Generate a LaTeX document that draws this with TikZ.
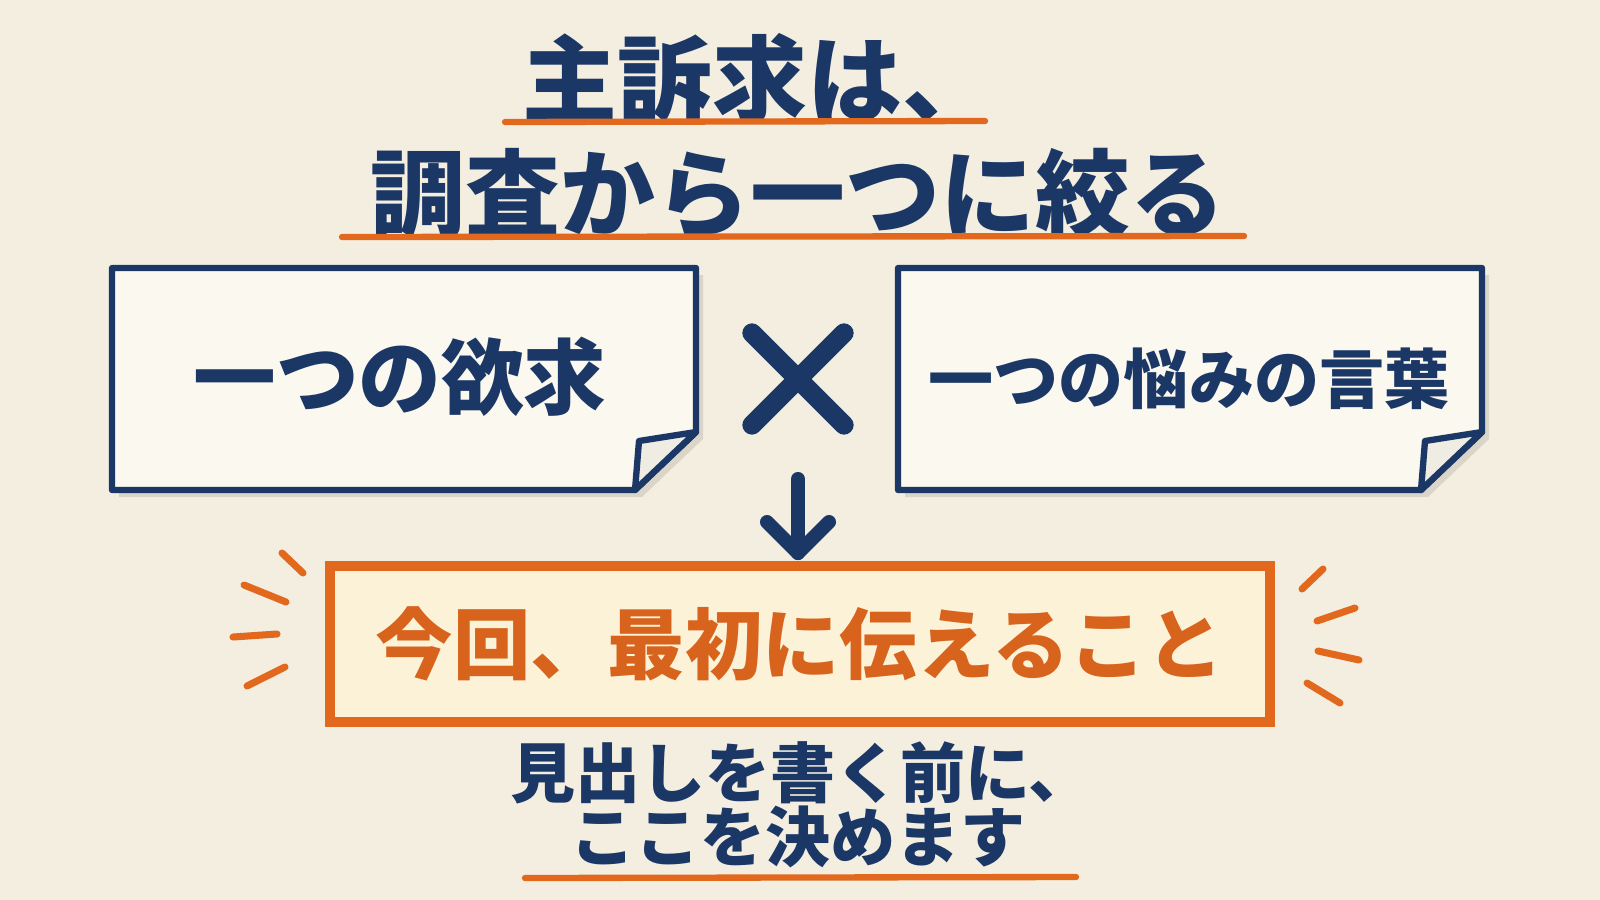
\documentclass[tikz,border=0pt]{standalone}
\usepackage{fontspec}
\newfontfamily\jp{Noto Sans CJK JP}
\usepackage{tikz}
\usetikzlibrary{calc,arrows.meta}
\definecolor{paper}{HTML}{F4EEE0}
\definecolor{navy}{HTML}{1B3766}
\definecolor{pencil}{HTML}{E2681E}
\definecolor{cardfill}{HTML}{FBF8EF}
\definecolor{notefill}{HTML}{FCF2D8}

\begin{document}
\begin{tikzpicture}[x=0.01cm,y=-0.01cm,
    headline/.style={font=\jp\bfseries\fontsize{27}{32}\selectfont,text=navy},
    cardtext/.style={font=\jp\bfseries\fontsize{#1}{28}\selectfont,text=navy},
    hint/.style={font=\jp\bfseries\fontsize{18.5}{22}\selectfont,text=navy},
    card/.style={draw=navy,line width=1.8pt,fill=cardfill,line join=round},
    stroke/.style={draw=pencil,line width=1.8pt,line cap=round},
    spark/.style={draw=pencil,line width=2pt,line cap=round},
    notebox/.style={draw=pencil,line width=2.8pt,fill=notefill,
        minimum width=9.39cm,minimum height=1.56cm,inner sep=0pt,
        font=\jp\bfseries\fontsize{22}{26}\selectfont,text=pencil!95!black},
    arrowpen/.style={draw=navy,line width=4pt,line cap=round,line join=round}]

    \fill[paper] (0,0) rectangle (1600,900);
    \useasboundingbox (0,0) rectangle (1600,900);

    % title
    \node[headline] (title1) at (760,79) {主訴求は、};
    \node[headline] (title2) at (798,194) {調査から一つに絞る};
    \draw[stroke] (505,122) -- (985,121);
    \draw[stroke] (342,237) -- (1244,236);

    % two cards with a folded corner
    \foreach \x in {0,786} {
        \fill[black,opacity=0.10,shift={(\x+7,7)}]
            (112,268) -- (696,268) -- (696,432) -- (635,490) -- (112,490) -- cycle;
        \draw[card,shift={(\x,0)}]
            (112,268) -- (696,268) -- (696,432) -- (635,490) -- (112,490) -- cycle;
        \draw[card,fill=cardfill!90!gray,shift={(\x,0)}]
            (696,432) -- (639,441) -- (635,490) -- cycle;
    }
    \node[cardtext=23.5] (want) at (400,377) {一つの欲求};
    \node[cardtext=18.5] (worry) at (1189,379) {一つの悩みの言葉};

    % times sign
    \coordinate (times) at (798,379);
    \draw[navy,line width=5.5pt,line cap=round]
        ($(times)+(-46,-46)$) -- ($(times)+(46,46)$)
        ($(times)+(-46,46)$) -- ($(times)+(46,-46)$);

    % result
    \node[notebox] (first) at (800,644) {今回、最初に伝えること};
    \coordinate (drop) at (798,479);
    \coordinate (tip) at ($(first.north)+(-2,-8)$);
    \draw[arrowpen] (drop) -- (tip);
    \draw[arrowpen] ($(tip)+(-31,-31)$) -- (tip) -- ($(tip)+(31,-31)$);

    \foreach \a/\b/\c/\d in {282/553/303/573, 244/585/286/602, 233/637/277/634,
        247/686/285/667, 1302/589/1323/569, 1317/621/1355/608,
        1318/651/1359/660, 1307/683/1340/703}
        \draw[spark] (\a,\b) -- (\c,\d);

    % note below
    \node[hint] (hint1) at (802,773) {見出しを書く前に、};
    \node[hint] (hint2) at (798,837) {ここを決めます};
    \draw[stroke] (525,878) -- (1076,877);
\end{tikzpicture}
\end{document}
